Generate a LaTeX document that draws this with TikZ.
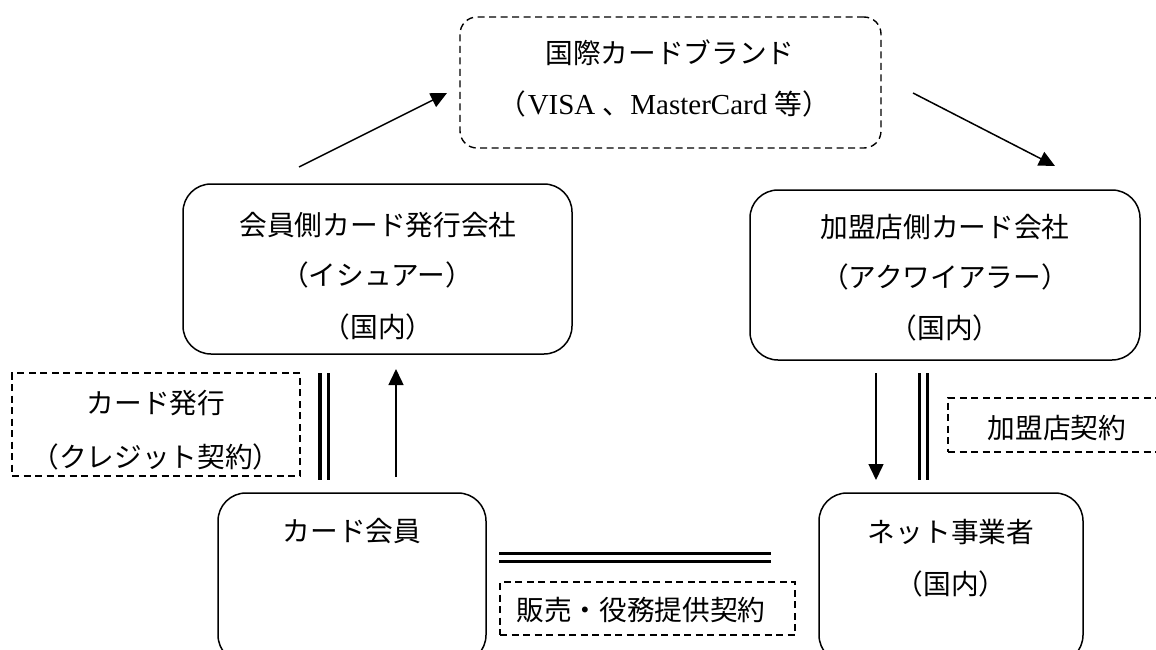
\documentclass[tikz,border=0pt]{standalone}
\usepackage{fontspec}
\setmainfont{Liberation Serif}
\newfontfamily\jp{Noto Sans CJK JP}
\usetikzlibrary{arrows.meta}
\begin{document}
\begin{tikzpicture}[x=1pt,y=-1pt,
  box/.style={draw,line width=1.5pt,rounded corners=28pt,inner sep=0pt},
  dbox/.style={draw,line width=1.4pt,dash pattern=on 7pt off 4.5pt,inner sep=0pt},
  txt/.style={inner sep=0pt,font=\jp\fontsize{27.7}{32}\selectfont},
  arr/.style={line width=1.5pt,-{Triangle[length=16pt,width=15pt]}},
  dbl/.style={line width=3.4pt,double distance=5pt}]
\useasboundingbox (0,0) rectangle (1156,650);
\clip (0,0) rectangle (1156,650);
% boxes
\node[dbox,rounded corners=17pt,minimum width=421pt,minimum height=131pt] (brand) at (670.5,82.5) {};
\node[box,minimum width=389pt,minimum height=170pt] (issuer) at (377.5,269) {};
\node[box,minimum width=390pt,minimum height=170pt] (acq) at (945,275) {};
\node[dbox,minimum width=288pt,minimum height=103pt] (issue) at (156,424.5) {};
\node[box,minimum width=268pt,minimum height=170pt] (member) at (352,578) {};
\node[box,minimum width=264pt,minimum height=170pt] (net) at (951,578) {};
\node[dbox,minimum width=218pt,minimum height=54pt] (mcon) at (1057,425) {};
\node[dbox,minimum width=295pt,minimum height=53pt] (sales) at (647.5,608.5) {};
% texts
\node[txt] (brand1) at (670,53) {国際カードブランド};
\node[txt] (brand2) at (664,104) {（\hspace{2pt}{\rmfamily\fontsize{29}{32}\selectfont VISA }、{\rmfamily\fontsize{29}{32}\selectfont MasterCard }等）};
\node[txt] (iss1) at (378,225) {会員側カード発行会社};
\node[txt] (iss2) at (377,275) {（イシュアー）};
\node[txt] (iss3) at (378,327) {（国内）};
\node[txt] (acq1) at (945,227) {加盟店側カード会社};
\node[txt] (acq2) at (945,277) {（アクワイアラー）};
\node[txt] (acq3) at (945,328) {（国内）};
\node[txt] (issue1) at (156,403) {カード発行};
\node[txt] (issue2) at (156,457) {（クレジット契約）};
\node[txt] (mem1) at (352,531) {カード会員};
\node[txt] (net1) at (951,532) {ネット事業者};
\node[txt] (net2) at (951,584) {（国内）};
\node[txt] (mcon1) at (1057,428) {加盟店契約};
\node[txt] (sales1) at (641,610) {販売・役務提供契約};
% connector end points
\coordinate (a1s) at (299,167);
\coordinate (a1e) at (447,93);
\coordinate (a2s) at (913,93);
\coordinate (a2e) at (1055,166);
\coordinate (ups) at (396,477);
\coordinate (upe) at (396,369);
\coordinate (dns) at (876,373);
\coordinate (dne) at (876,480);
\coordinate (dl1) at (324,373);
\coordinate (dl2) at (324,480);
\coordinate (dr1) at (923.5,373);
\coordinate (dr2) at (923.5,480);
\coordinate (dh1) at (499,557.5);
\coordinate (dh2) at (771,557.5);
% connectors
\draw[arr] (a1s) -- (a1e);
\draw[arr] (a2s) -- (a2e);
\draw[arr] (ups) -- (upe);
\draw[arr] (dns) -- (dne);
\draw[dbl] (dl1) -- (dl2);
\draw[dbl] (dr1) -- (dr2);
\draw[dbl] (dh1) -- (dh2);
\end{tikzpicture}
\end{document}
